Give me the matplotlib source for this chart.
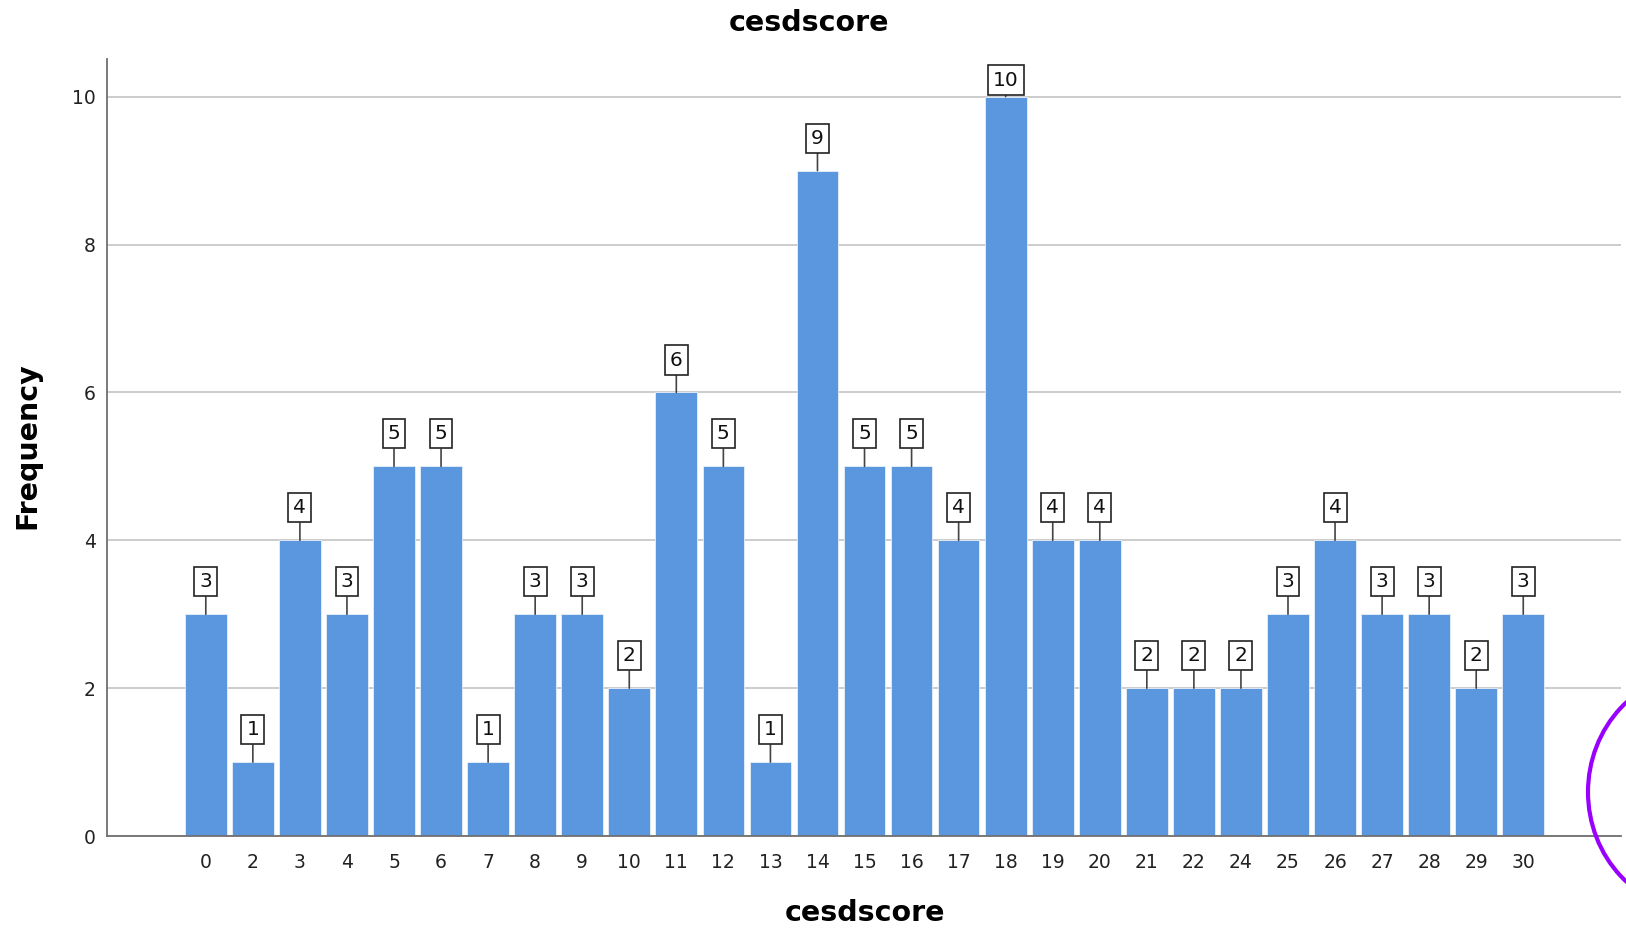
import matplotlib
matplotlib.use("Agg")
import matplotlib.pyplot as plt
from matplotlib.patches import Ellipse

# cesdscore frequency table
scores = ["0", "2", "3", "4", "5", "6", "7", "8", "9", "10", "11", "12", "13", "14", "15",
          "16", "17", "18", "19", "20", "21", "22", "24", "25", "26", "27", "28", "29", "30"]
counts = [3, 1, 4, 3, 5, 5, 1, 3, 3, 2, 6, 5, 1, 9, 5,
          5, 4, 10, 4, 4, 2, 2, 2, 3, 4, 3, 3, 2, 3]
yticks = [0, 2, 4, 6, 8, 10]

plt.rcParams['font.family'] = ['DejaVu Sans']

fig = plt.figure(figsize=(16.26, 9.36), dpi=100)
ax = fig.add_axes([0.0658, 0.1068, 0.9312, 0.8302])

x = list(range(len(scores)))
ax.bar(x, counts, width=0.885, color="#5a97df", edgecolor="#e8f0fb", linewidth=0.6, zorder=2)

ymax = 10.51
ax.set_xlim(-2.1, 30.08)
ax.set_ylim(0, ymax)
ax.set_xticks(x)
ax.set_xticklabels(scores)
ax.set_yticks(yticks)
ax.tick_params(axis="x", length=0, pad=12, labelsize=13.5, labelcolor="#222222")
ax.tick_params(axis="y", length=0, pad=8, labelsize=13.5, labelcolor="#222222")

ax.grid(axis="y", color="#c4c4c4", linewidth=1.2, zorder=0)
ax.set_axisbelow(True)
for s in ["top", "right"]:
    ax.spines[s].set_visible(False)
ax.spines["left"].set_color("#707070")
ax.spines["bottom"].set_color("#707070")
ax.spines["left"].set_linewidth(1.3)
ax.spines["bottom"].set_linewidth(1.3)

# value labels in boxes with a short leader line, kept inside the plot area
pt_per_unit = 0.8302 * 9.36 * 72 / ymax
box_h = 26  # points
for xi, c in zip(x, counts):
    off = min(16.5, (ymax - c) * pt_per_unit - box_h + 4)
    off = max(off, 1)
    ax.annotate(str(c), xy=(xi, c), xytext=(0, off), textcoords="offset points",
                ha="center", va="bottom", fontsize=14.5, color="#111111",
                bbox=dict(boxstyle="square,pad=0.25", fc="white", ec="#222222", lw=1.2),
                arrowprops=dict(arrowstyle="-", color="#444444", lw=1.2,
                                shrinkA=0, shrinkB=0),
                annotation_clip=False, zorder=5)

fig.text(0.4975, 0.975, "cesdscore", ha="center", va="center", fontsize=20.5, fontweight="bold")
fig.text(0.532, 0.0245, "cesdscore", ha="center", va="center", fontsize=20.5, fontweight="bold")
fig.text(0.017, 0.524, "Frequency", ha="center", va="center", rotation=90,
         fontsize=20.5, fontweight="bold")

# purple hand-drawn circle at the right edge
fig.patches.append(Ellipse((17.0, 1.44), 2.24, 2.38, transform=fig.dpi_scale_trans,
                           fill=False, ec="#9900ff", lw=3))

fig.savefig("out.png", dpi=100)
